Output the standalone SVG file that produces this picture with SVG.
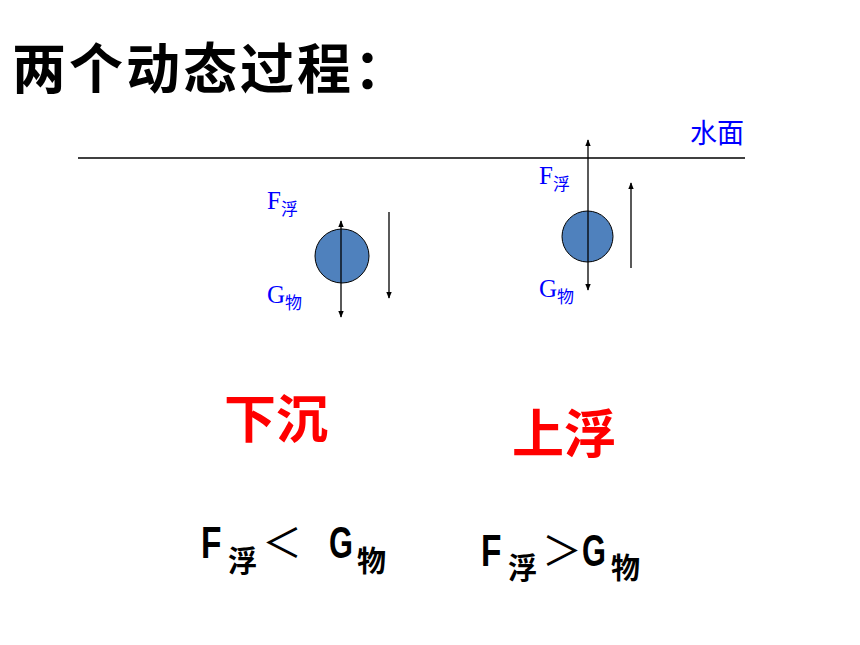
<svg xmlns="http://www.w3.org/2000/svg" width="860" height="645" viewBox="0 0 860 645">
<defs>
<marker id="ah" viewBox="0 0 10 10" refX="9" refY="5" markerWidth="7" markerHeight="7" orient="auto-start-reverse" markerUnits="userSpaceOnUse">
<path d="M0,1 L10,5 L0,9 z" fill="#000"/>
</marker>
<style>
.title{font-family:"Noto Sans CJK SC","Noto Sans",sans-serif;font-weight:bold;font-size:54px;letter-spacing:3px;fill:#000}
.lbl{font-family:"Liberation Serif","Noto Sans CJK SC",serif;font-size:25px;fill:#0000ff}
.sub{font-family:"Noto Sans CJK SC",serif;font-size:17px}
.surf{font-family:"Noto Sans CJK SC",sans-serif;font-size:27px;fill:#0000ff}
.lat{font-family:"Liberation Sans","Noto Sans CJK SC",sans-serif;font-weight:bold;font-size:44px;fill:#000}
.cn{font-family:"Noto Sans CJK SC",sans-serif;font-weight:bold;font-size:29px;fill:#000}
.op{font-family:"Noto Sans CJK SC",sans-serif;font-weight:normal;font-size:40px;fill:#000}
.red{font-family:"Noto Sans CJK SC",sans-serif;font-weight:bold;font-size:52px;fill:#ff0000}
.ball{fill:#4f81bd;stroke:#000;stroke-width:1}
.ln{stroke:#000;stroke-width:1.3;fill:none}
</style>
</defs>
<rect width="860" height="645" fill="#fff"/>
<text class="title" x="12" y="89">两个动态过程：</text>
<g id="water">
<line x1="78" y1="158" x2="745" y2="158" stroke="#000" stroke-width="1.3"/>
<text class="surf" x="690" y="143">水面</text>
</g>
<g id="ball-left">
<circle class="ball" cx="342" cy="256" r="27"/>
</g>
<g id="ball-right">
<circle class="ball" cx="587.5" cy="236.5" r="25.5"/>
</g>
<g id="connectors">
<line class="ln" x1="341" y1="221" x2="341" y2="317" marker-start="url(#ah)" marker-end="url(#ah)"/>
<line class="ln" x1="389" y1="212" x2="389" y2="298" marker-end="url(#ah)"/>
<line class="ln" x1="588" y1="140" x2="588" y2="290" marker-start="url(#ah)" marker-end="url(#ah)"/>
<line class="ln" x1="631" y1="268" x2="631" y2="183" marker-end="url(#ah)"/>
</g>
<g id="labels-left">
<text class="lbl" x="267" y="209">F<tspan class="sub" dy="6">浮</tspan></text>
<text class="lbl" x="267" y="303">G<tspan class="sub" dy="6">物</tspan></text>
</g>
<g id="labels-right">
<text class="lbl" x="539" y="184">F<tspan class="sub" dy="6">浮</tspan></text>
<text class="lbl" x="539" y="297">G<tspan class="sub" dy="6">物</tspan></text>
</g>
<g id="sink">
<text class="red" x="224" y="438">下沉</text>
</g>
<g id="float">
<text class="red" x="512" y="453">上浮</text>
</g>
<g id="cond-left">
<text class="lat" transform="translate(201,558) scale(0.76,1)">F</text>
<text class="cn" x="228" y="572">浮</text>
<text class="op" x="262" y="557">＜</text>
<text class="lat" transform="translate(329,558) scale(0.7,1)">G</text>
<text class="cn" x="357" y="572">物</text>
</g>
<g id="cond-right">
<text class="lat" transform="translate(481,566) scale(0.76,1)">F</text>
<text class="cn" x="508" y="579">浮</text>
<text class="op" x="542" y="565">＞</text>
<text class="lat" transform="translate(582,566) scale(0.7,1)">G</text>
<text class="cn" x="611" y="579">物</text>
</g>
</svg>
